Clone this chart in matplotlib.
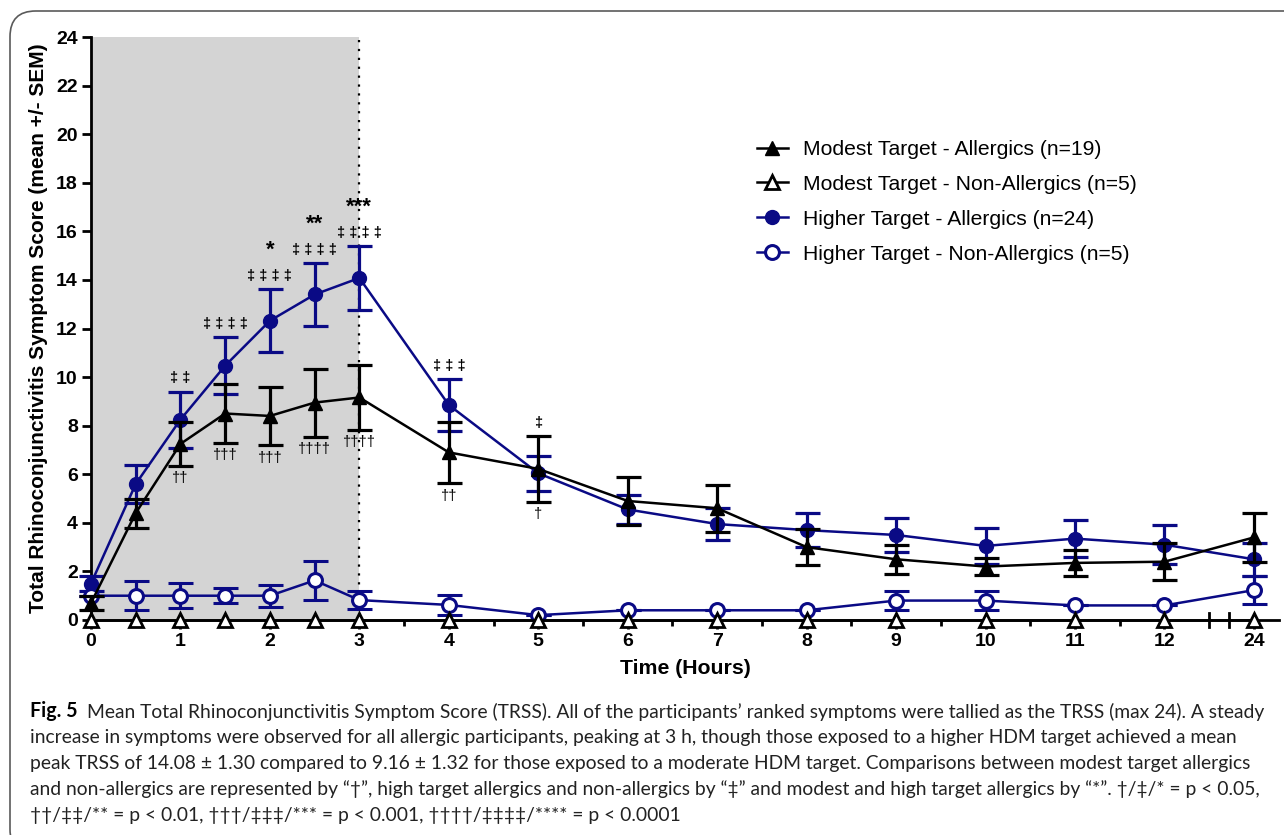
import numpy as np
import matplotlib
matplotlib.use("Agg")
import matplotlib.pyplot as plt
from matplotlib import font_manager
from matplotlib.patches import FancyBboxPatch
from matplotlib.lines import Line2D

# ---- data -------------------------------------------------------------
hours = [0, 0.5, 1, 1.5, 2, 2.5, 3, 4, 5, 6, 7, 8, 9, 10, 11, 12, 24]
tick_labels = ["0", "1", "2", "3", "4", "5", "6", "7", "8", "9", "10", "11", "12", "24"]

modest_allergic = [0.7, 4.4, 7.25, 8.5, 8.4, 8.95, 9.16, 6.9, 6.22, 4.9, 4.6, 3.0, 2.5, 2.2, 2.35, 2.4, 3.4]
modest_allergic_sem = [0.3, 0.6, 0.9, 1.2, 1.2, 1.4, 1.32, 1.27, 1.35, 1.0, 0.97, 0.75, 0.6, 0.35, 0.55, 0.75, 1.0]

modest_nonallergic = [0] * 17

higher_allergic = [1.5, 5.6, 8.25, 10.47, 12.32, 13.4, 14.08, 8.85, 6.04, 4.55, 3.95, 3.7, 3.5, 3.05, 3.35, 3.1, 2.5]
higher_allergic_sem = [0.3, 0.8, 1.15, 1.18, 1.3, 1.3, 1.30, 1.06, 0.73, 0.6, 0.65, 0.7, 0.7, 0.75, 0.75, 0.8, 0.68]

higher_nonallergic = [1.0, 1.0, 1.0, 1.0, 1.0, 1.63, 0.82, 0.62, 0.2, 0.4, 0.4, 0.4, 0.8, 0.8, 0.6, 0.6, 1.23]
higher_nonallergic_sem = [0.0, 0.6, 0.52, 0.32, 0.45, 0.8, 0.38, 0.4, 0.0, 0.0, 0.0, 0.0, 0.4, 0.4, 0.0, 0.0, 0.57]

# significance marks per hour
sig_hours = [1, 1.5, 2, 2.5, 3, 4, 5]
sig_dd = ["‡‡", "‡‡‡‡", "‡‡‡‡", "‡‡‡‡", "‡‡‡‡", "‡‡‡", "‡"]
sig_star = ["", "", "*", "**", "***", "", ""]
sig_dag = ["††", "†††", "†††", "††††", "††††", "††", "†"]

labels = ["Modest Target - Allergics (n=19)",
          "Modest Target - Non-Allergics (n=5)",
          "Higher Target - Allergics (n=24)",
          "Higher Target - Non-Allergics (n=5)"]

caption_lines = [
    "Mean Total Rhinoconjunctivitis Symptom Score (TRSS). All of the participants\u2019 ranked symptoms were tallied as the TRSS (max 24). A steady",
    "increase in symptoms were observed for all allergic participants, peaking at 3 h, though those exposed to a higher HDM target achieved a mean",
    "peak TRSS of 14.08 \u00b1 1.30 compared to 9.16 \u00b1 1.32 for those exposed to a moderate HDM target. Comparisons between modest target allergics",
    "and non-allergics are represented by \u201c\u2020\u201d, high target allergics and non-allergics by \u201c\u2021\u201d and modest and high target allergics by \u201c*\u201d. \u2020/\u2021/* = p < 0.05,",
    "\u2020\u2020/\u2021\u2021/** = p < 0.01, \u2020\u2020\u2020/\u2021\u2021\u2021/*** = p < 0.001, \u2020\u2020\u2020\u2020/\u2021\u2021\u2021\u2021/**** = p < 0.0001",
]

# ---- style ------------------------------------------------------------
plt.rcParams["font.family"] = ["Liberation Sans", "DejaVu Sans"]
NAVY = "#0a0a85"
W, H = 1284, 835

fig = plt.figure(figsize=(W / 100, H / 100), dpi=100)
ax = fig.add_axes([91 / W, 1 - 620 / H, (1279 - 91) / W, (620 - 37) / H])

# 24 h point sits one slot after 12 h (broken axis)
x = np.where(np.array(hours) > 12, 13, np.array(hours, dtype=float))

ax.axvspan(0, 3, color="#d4d4d4", zorder=0, lw=0)
ax.plot([3, 3], [0, 24], ls=(0, (1, 3)), color="black", lw=1.6, zorder=1)

eb_kw = dict(elinewidth=2.3, capsize=9, capthick=2.3, lw=1.8, ms=10)

h = ax.errorbar(x, higher_allergic, yerr=higher_allergic_sem, color=NAVY, marker="o",
                mfc=NAVY, mec=NAVY, zorder=4, **eb_kw)
hn = ax.errorbar(x, higher_nonallergic, yerr=np.array(higher_nonallergic_sem), color=NAVY,
                 marker="o", mfc="white", mec=NAVY, mew=2.2, zorder=4, **eb_kw)
m = ax.errorbar(x, modest_allergic, yerr=modest_allergic_sem, color="black", marker="^",
                mfc="black", mec="black", zorder=5, **eb_kw)
mn, = ax.plot(x, modest_nonallergic, color="black", marker="^", mfc="white", mec="black",
              mew=2.0, ms=10, lw=1.8, zorder=6, clip_on=False)

for c in (h, hn, m):
    for art in c.get_children():
        art.set_clip_on(False)

# significance annotations
hx = list(hours)
for t, dd, st, dg in zip(sig_hours, sig_dd, sig_star, sig_dag):
    i = hx.index(t)
    top = max(higher_allergic[i] + higher_allergic_sem[i], modest_allergic[i] + modest_allergic_sem[i])
    y_dd = top + 0.55
    ax.text(x[i], y_dd, " ".join(dd), ha="center", va="center", fontsize=10.5,
            fontweight="bold", zorder=7)
    if st:
        ax.text(x[i], y_dd + 1.05, st, ha="center", va="center", fontsize=16,
                fontweight="bold", zorder=7)
    low = modest_allergic[i] - modest_allergic_sem[i]
    ax.text(x[i], low - 0.52, dg, ha="center", va="center", fontsize=10.5, zorder=7)

ax.set_xlim(0, 13.28)
ax.set_ylim(0, 24)
ax.set_yticks(np.arange(0, 25, 2))
ax.set_xticks(np.arange(0, 14))
ax.set_xticklabels(tick_labels)
ax.set_xticks(list(np.arange(0.5, 12, 1.0)), minor=True)
for s in ("top", "right"):
    ax.spines[s].set_visible(False)
for s in ("left", "bottom"):
    ax.spines[s].set_linewidth(2.0)
ax.tick_params(axis="both", which="major", direction="out", length=6.5, width=2.0,
               labelsize=14, pad=3)
ax.tick_params(axis="x", which="minor", direction="out", length=4, width=2.0)
for lab in ax.get_xticklabels() + ax.get_yticklabels():
    lab.set_fontweight("bold")

# axis break marks between 12 and 24
for bx in (12.5, 12.72):
    ax.plot([bx, bx], [-0.28, 0.28], color="black", lw=2.0, clip_on=False, zorder=6)

ax.set_xlabel("Time (Hours)", fontsize=15.3, fontweight="bold", labelpad=6)
ax.set_ylabel("Total Rhinoconjunctivitis Symptom Score (mean +/- SEM)", fontsize=15,
              fontweight="bold", labelpad=6)

handles = [
    Line2D([], [], color="black", marker="^", mfc="black", mec="black", ms=10, lw=1.8),
    Line2D([], [], color="black", marker="^", mfc="white", mec="black", mew=2.0, ms=10, lw=1.8),
    Line2D([], [], color=NAVY, marker="o", mfc=NAVY, mec=NAVY, ms=10, lw=1.8),
    Line2D([], [], color=NAVY, marker="o", mfc="white", mec=NAVY, mew=2.2, ms=10, lw=1.8),
]
ax.legend(handles, labels, loc="upper left", bbox_to_anchor=((757 - 91) / 1188, (620 - 140) / 583),
          frameon=False, fontsize=15.2, handlelength=1.45, handletextpad=0.75,
          labelspacing=0.75, borderpad=0, borderaxespad=0)

# ---- figure frame -----------------------------------------------------
frame = FancyBboxPatch((10 / W, -20 / H), 1450 / W, (H - 11 + 20) / H,
                       boxstyle="round,pad=0,rounding_size=0.02", transform=fig.transFigure,
                       fill=False, ec="#5a5a5a", lw=1.2, clip_on=False, mutation_aspect=W / H)
fig.add_artist(frame)

# ---- caption ----------------------------------------------------------
names = {f.name for f in font_manager.fontManager.ttflist}
cap_family = "Liberation Sans Narrow" if "Liberation Sans Narrow" in names else "Lato"
fam = [cap_family, "DejaVu Sans"]
renderer = fig.canvas.get_renderer()


def width_px(s, size, weight="normal"):
    t = fig.text(0, 0, s, fontsize=size, family=fam, fontweight=weight)
    w = t.get_window_extent(renderer).width
    t.remove()
    return w


ref = 12.0
prefix_w = width_px("Fig. 5", ref * 1.02, "bold") + 7 * 100 / 72
widths = [width_px(line, ref) for line in caption_lines[:4]]
widths[0] += prefix_w
cap_size = ref * 1236 / max(widths)

y0 = 717
for k, line in enumerate(caption_lines):
    yy = 1 - (y0 + 26 * k) / H
    if k == 0:
        t1 = fig.text(30 / W, yy, "Fig. 5", fontsize=cap_size * 1.02, fontweight="bold",
                      family=fam, va="baseline")
        ax.annotate(line, xy=(1, 0), xycoords=t1, xytext=(7, 0), textcoords="offset points",
                    fontsize=cap_size, family=fam, va="bottom",
                    ha="left", annotation_clip=False, color="#222222")
    else:
        fig.text(30 / W, yy, line, fontsize=cap_size, family=fam,
                 va="baseline", color="#222222")

fig.savefig("out.png", dpi=100)
